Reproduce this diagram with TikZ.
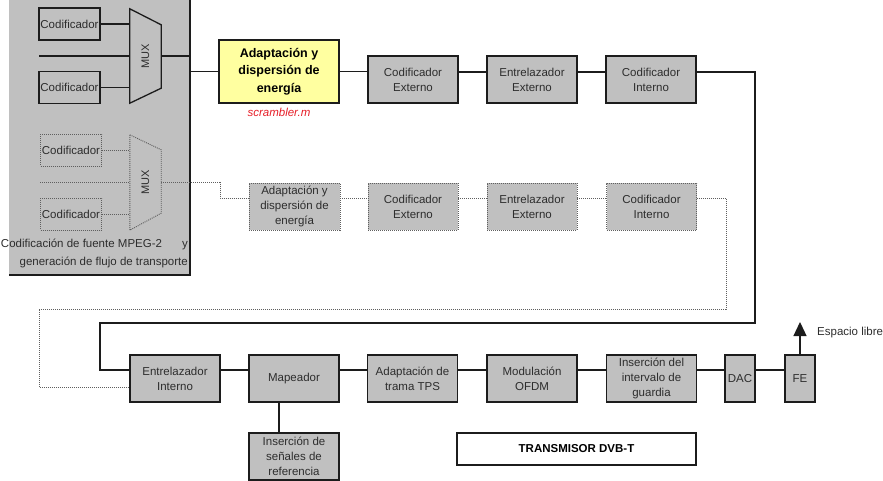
\documentclass[tikz,border=0pt]{standalone}
\usepackage{fontspec}
\usepackage{graphicx}
\setmainfont{Liberation Sans}
\usetikzlibrary{arrows.meta}
\definecolor{boxgray}{RGB}{192,192,192}
\definecolor{ink}{RGB}{28,28,28}
\definecolor{txt}{RGB}{45,45,45}
\definecolor{paleyellow}{RGB}{255,255,160}
\definecolor{scrred}{RGB}{230,30,40}
\definecolor{dotgray}{RGB}{95,95,95}

\begin{document}
\begin{tikzpicture}[x=1pt,y=-1pt,
  every node/.style={font=\fontsize{11.5}{15}\selectfont, text=txt},
  blk/.style={draw=ink, line width=1.3pt, fill=boxgray, minimum width=90pt,
    minimum height=47pt, inner sep=1pt, align=center},
  dblk/.style={blk, draw=dotgray, line width=0.9pt, dash pattern=on 1pt off 1pt},
  coder/.style={draw=ink, line width=1.3pt, minimum width=61pt,
    minimum height=32pt, inner sep=0pt},
  dcoder/.style={coder, draw=dotgray, line width=0.9pt, dash pattern=on 1pt off 1pt},
  muxbox/.style={minimum width=31pt, inner sep=0pt, font=\fontsize{11}{13}\selectfont},
  wire/.style={draw=ink, line width=1.3pt},
  dwire/.style={draw=dotgray, line width=0.9pt, dash pattern=on 1pt off 1pt}]

\useasboundingbox (0,0) rectangle (883,481);

% source coding / transport stream panel
\fill[boxgray] (9,-5) rectangle (190,275);
\draw[ink, line width=1.5pt] (190,-5) -- (190,275) -- (9,275);

% first programme branch
\node[coder] (cod1) at (69.5,24) {Codificador};
\node[coder] (cod2) at (69.5,87.5) {Codificador};
\node[muxbox, minimum height=94pt] (mux1) at (145.5,56) {\rotatebox{90}{MUX}};
\draw[wire] (mux1.north west) -- ([yshift=-16pt]mux1.north east)
  -- ([yshift=15pt]mux1.south east) -- (mux1.south west) -- cycle;
\coordinate (in1) at (39,56);
\draw[wire] (cod1.east) -- (cod1.east -| mux1.west);
\draw[wire] (in1) -- (in1 -| mux1.west);
\draw[wire] (cod2.east) -- (cod2.east -| mux1.west);

% second programme branch
\node[dcoder] (dcod1) at (71,150.5) {Codificador};
\node[dcoder] (dcod2) at (71,214) {Codificador};
\node[muxbox, minimum height=95pt] (mux2) at (145.5,182.5) {\rotatebox{90}{MUX}};
\draw[dwire] (mux2.north west) -- ([yshift=-15pt]mux2.north east)
  -- ([yshift=17pt]mux2.south east) -- (mux2.south west) -- cycle;
\coordinate (in2) at (40,182.5);
\draw[dwire] (dcod1.east) -- (dcod1.east -| mux2.west);
\draw[dwire] (in2) -- (in2 -| mux2.west);
\draw[dwire] (dcod2.east) -- (dcod2.east -| mux2.west);

\node[anchor=east, align=right, inner sep=0pt, font=\fontsize{11.5}{18}\selectfont]
  (cap) at (188,253) {Codificación de fuente MPEG-2\hspace{20pt}y\\generación de flujo de transporte};

% first chain
\node[blk, fill=paleyellow, minimum width=120pt, minimum height=63pt, text=black,
  font=\bfseries\fontsize{12.5}{17.5}\selectfont] (yel) at (279,71.5)
  {Adaptación y\\dispersión de\\energía};
\node[text=scrred, inner sep=0pt, font=\itshape\fontsize{11.5}{14}\selectfont]
  (scr) at (279,112) {scrambler.m};
\node[blk] (cext1) at (413,79.5) {Codificador\\Externo};
\node[blk] (eext1) at (532,79.5) {Entrelazador\\Externo};
\node[blk] (cint1) at (651,79.5) {Codificador\\Interno};

% second chain
\node[dblk, minimum width=91pt] (adap2) at (294.5,206.5) {Adaptación y\\dispersión de\\energía};
\node[dblk] (cext2) at (413,206.5) {Codificador\\Externo};
\node[dblk] (eext2) at (532,206.5) {Entrelazador\\Externo};
\node[dblk] (cint2) at (651.5,206.5) {Codificador\\Interno};

% common chain
\node[blk] (eint) at (175,378.5) {Entrelazador\\Interno};
\node[blk] (map) at (294,378.5) {Mapeador};
\node[blk] (tps) at (412.5,378.5) {Adaptación de\\trama TPS};
\node[blk] (ofdm) at (532,378.5) {Modulación\\OFDM};
\node[blk] (guard) at (651.5,378.5) {Inserción del\\intervalo de\\guardia};
\node[blk, minimum width=30pt, inner sep=0pt] (dac) at (740,378.5) {DAC};
\node[blk, minimum width=30pt, inner sep=0pt] (fe) at (800,378.5) {FE};
\node[blk] (ref) at (294,456.5) {Inserción de\\señales de\\referencia};
\node[blk, fill=white, minimum width=239pt, minimum height=32pt, text=black,
  font=\bfseries\fontsize{11.5}{14}\selectfont] (tx) at (576.5,449) {TRANSMISOR DVB-T};
\node[anchor=west, inner sep=0pt] (space) at (817,333) {Espacio libre};

% first chain connections
\coordinate (b1) at (190,0);
\draw[wire] (mux1.east) -- (mux1.east -| b1) |- (yel.west);
\draw[wire] (yel.east) -- (yel.east -| cext1.west);
\draw[wire] ([yshift=7.5pt]cext1.east) -- ([yshift=7.5pt]eext1.west);
\draw[wire] ([yshift=7.5pt]eext1.east) -- ([yshift=7.5pt]cint1.west);
\coordinate (c1) at (755,323);
\coordinate (c2) at (100,323);
\draw[wire] ([yshift=7.5pt]cint1.east) -| (c1) -- (c2) |- ([yshift=8.5pt]eint.west);

% second chain connections
\coordinate (b2) at (220,0);
\draw[dwire] (mux2.east) -- (mux2.east -| b2) |- ([yshift=8.5pt]adap2.west);
\draw[dwire] ([yshift=8.5pt]adap2.east) -- ([yshift=8.5pt]cext2.west);
\draw[dwire] ([yshift=8.5pt]cext2.east) -- ([yshift=8.5pt]eext2.west);
\draw[dwire] ([yshift=8.5pt]eext2.east) -- ([yshift=8.5pt]cint2.west);
\coordinate (d1) at (726,309);
\coordinate (d2) at (39,309);
\draw[dwire] ([yshift=8.5pt]cint2.east) -| (d1) -- (d2) |- ([yshift=-8.5pt]eint.west);

% common chain connections
\draw[wire] ([yshift=8.5pt]eint.east) -- ([yshift=8.5pt]map.west);
\draw[wire] ([yshift=8.5pt]map.east) -- ([yshift=8.5pt]tps.west);
\draw[wire] ([yshift=8.5pt]tps.east) -- ([yshift=8.5pt]ofdm.west);
\draw[wire] ([yshift=8.5pt]ofdm.east) -- ([yshift=8.5pt]guard.west);
\draw[wire] ([yshift=8.5pt]guard.east) -- ([yshift=8.5pt]dac.west);
\draw[wire] ([yshift=8.5pt]dac.east) -- ([yshift=8.5pt]fe.west);
\draw[wire] ([xshift=-15pt]map.south) -- ([xshift=-15pt]map.south |- ref.north);
\coordinate (air) at (800,322);
\draw[wire, -{Triangle[width=13pt,length=14pt]}] (fe.north) -- (air);

\end{tikzpicture}
\end{document}
